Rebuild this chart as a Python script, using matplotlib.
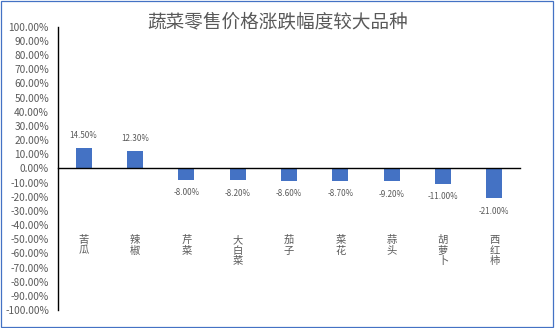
import matplotlib
matplotlib.use("Agg")
import matplotlib.pyplot as plt
from matplotlib.patches import Rectangle
from matplotlib.ticker import FuncFormatter, MultipleLocator
import matplotlib.transforms as mtransforms

plt.rcParams['font.family'] = ['Noto Sans CJK SC', 'DejaVu Sans']
plt.rcParams['axes.unicode_minus'] = False

title = "蔬菜零售价格涨跌幅度较大品种"
categories = ["苦瓜", "辣椒", "芹菜", "大白菜", "茄子", "菜花", "蒜头", "胡萝卜", "西红柿"]
changes = [14.50, 12.30, -8.00, -8.20, -8.60, -8.70, -9.20, -11.00, -21.00]

W, H = 555, 328
fig = plt.figure(figsize=(W / 100, H / 100), dpi=100)
ax = fig.add_axes([58 / W, 1 - 310 / H, (520 - 58) / W, (310 - 26.7) / H])

grey = "#595959"
blue = "#4472C4"

x = list(range(len(categories)))
ax.bar(x, changes, width=0.31, color=blue, zorder=2)

ax.set_xlim(-0.5, len(categories) - 0.5)
ax.set_ylim(-100, 100)
ax.yaxis.set_major_locator(MultipleLocator(10))
ax.yaxis.set_major_formatter(FuncFormatter(lambda v, p: f"{v:.2f}%"))
ax.tick_params(axis='y', length=0, pad=6.5, labelsize=7.3, labelcolor=grey)
ax.set_xticks([])

for side in ("top", "right"):
    ax.spines[side].set_visible(False)
ax.spines['bottom'].set_position(('data', 0))
ax.spines['left'].set_color("black")
ax.spines['bottom'].set_color("black")
ax.spines['left'].set_linewidth(1.0)
ax.spines['bottom'].set_linewidth(1.0)

# value labels above positive bars, below negative ones
for xi, v in zip(x, changes):
    off = 8.6 if v >= 0 else -9.4
    ax.annotate(f"{v:.2f}%", (xi, v), xytext=(0, off), textcoords="offset points",
                ha="center", va="center", fontsize=5.8, color=grey)

# stacked vertical category names
trans = mtransforms.blended_transform_factory(ax.transData, ax.transAxes)
for xi, name in zip(x, categories):
    ax.text(xi, 0.265, "\n".join(name), transform=trans, ha="center", va="top",
            fontsize=7.4, color=grey, linespacing=1.08)

fig.text(277.5 / W, 1 - 22 / H, title, ha="center", va="center",
         fontsize=13.4, color=grey)

fig.add_artist(Rectangle((0.5 / W, 1 - 327 / H), (553 - 0.5) / W, (327 - 0.5) / H,
                         transform=fig.transFigure, fill=False,
                         edgecolor=blue, linewidth=0.9))

fig.savefig("out.png", dpi=100)
